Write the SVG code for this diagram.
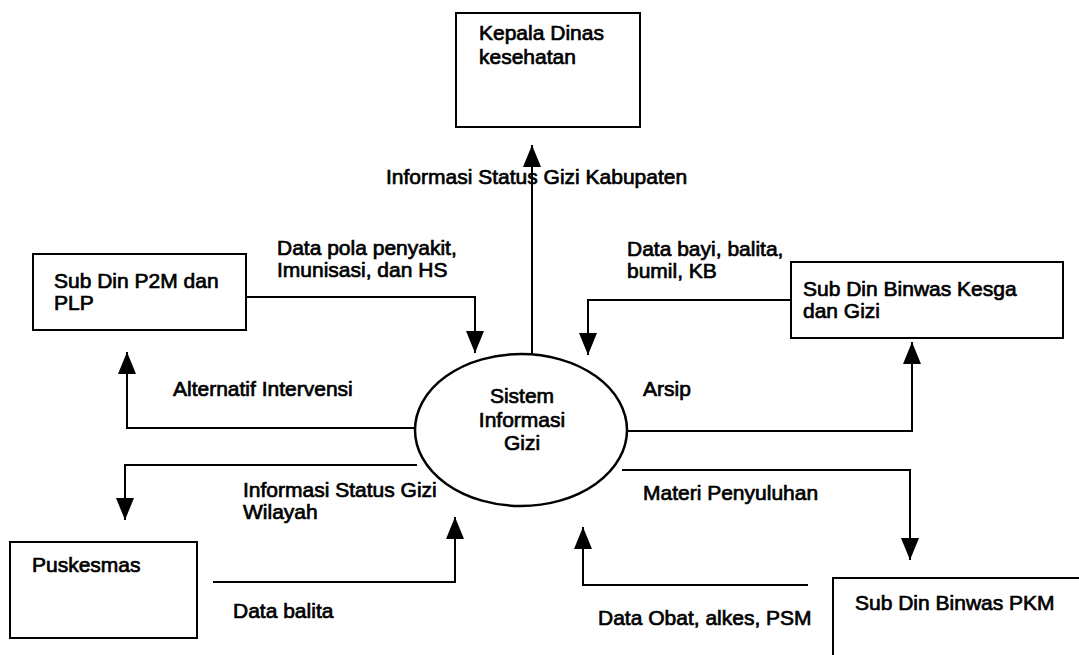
<svg xmlns="http://www.w3.org/2000/svg" width="1079" height="655" viewBox="0 0 1079 655">
<style>
  .box { fill: #fff; stroke: #000; stroke-width: 2; }
  .oval { fill: #fff; stroke: #000; stroke-width: 2.5; }
  .conn { fill: none; stroke: #000; stroke-width: 2; }
  text { font-family: "Liberation Sans", Arial, sans-serif; font-size: 21px; fill: #000; stroke: #000; stroke-width: 0.7; }
  .c { text-anchor: middle; }
</style>
<defs>
  <marker id="arr" viewBox="0 0 22 18" refX="22" refY="9" markerWidth="22" markerHeight="18" markerUnits="userSpaceOnUse" orient="auto">
    <path d="M0,0 L22,9 L0,18 z" fill="#000"/>
  </marker>
</defs>
<rect width="1079" height="655" fill="#fff"/>

<g id="connectors">
  <polyline class="conn" points="532,354 532,145" marker-end="url(#arr)"/>
  <polyline class="conn" points="246,297 475,297 475,353" marker-end="url(#arr)"/>
  <polyline class="conn" points="791,300 588,300 588,355" marker-end="url(#arr)"/>
  <polyline class="conn" points="415,428 127,428 127,352" marker-end="url(#arr)"/>
  <polyline class="conn" points="627,431 912,431 912,342" marker-end="url(#arr)"/>
  <polyline class="conn" points="417,465 125,465 125,520" marker-end="url(#arr)"/>
  <polyline class="conn" points="622,470 910,470 910,560" marker-end="url(#arr)"/>
  <polyline class="conn" points="213,582 455,582 455,517" marker-end="url(#arr)"/>
  <polyline class="conn" points="808,585 583,585 583,527" marker-end="url(#arr)"/>
  <text x="386" y="184">Informasi Status Gizi Kabupaten</text>
  <text x="277" y="255">Data pola penyakit,</text>
  <text x="277" y="277">Imunisasi, dan HS</text>
  <text x="627" y="256">Data bayi, balita,</text>
  <text x="627" y="278">bumil, KB</text>
  <text x="173" y="396">Alternatif Intervensi</text>
  <text x="643" y="396">Arsip</text>
  <text x="243" y="497">Informasi Status Gizi</text>
  <text x="243" y="519">Wilayah</text>
  <text x="643" y="500">Materi Penyuluhan</text>
  <text x="233" y="618">Data balita</text>
  <text x="598" y="625">Data Obat, alkes, PSM</text>
</g>

<g id="kepala-dinas">
  <rect class="box" x="456" y="13" width="184" height="114"/>
  <text x="479" y="40">Kepala Dinas</text>
  <text x="479" y="64">kesehatan</text>
</g>

<g id="sub-din-p2m">
  <rect class="box" x="33" y="254" width="213" height="76"/>
  <text x="54" y="288">Sub Din P2M dan</text>
  <text x="54" y="310">PLP</text>
</g>

<g id="sub-din-kesga">
  <rect class="box" x="791" y="262" width="272" height="76"/>
  <text x="803" y="296">Sub Din Binwas Kesga</text>
  <text x="803" y="318">dan Gizi</text>
</g>

<g id="sistem-informasi-gizi">
  <ellipse class="oval" cx="521" cy="430" rx="106" ry="76"/>
  <text class="c" x="522" y="403">Sistem</text>
  <text class="c" x="522" y="427">Informasi</text>
  <text class="c" x="522" y="450">Gizi</text>
</g>

<g id="puskesmas">
  <rect class="box" x="10" y="542" width="187" height="96"/>
  <text x="32" y="572">Puskesmas</text>
</g>

<g id="sub-din-pkm">
  <rect class="box" x="833" y="578" width="260" height="90"/>
  <text x="855" y="610">Sub Din Binwas PKM</text>
</g>
</svg>
